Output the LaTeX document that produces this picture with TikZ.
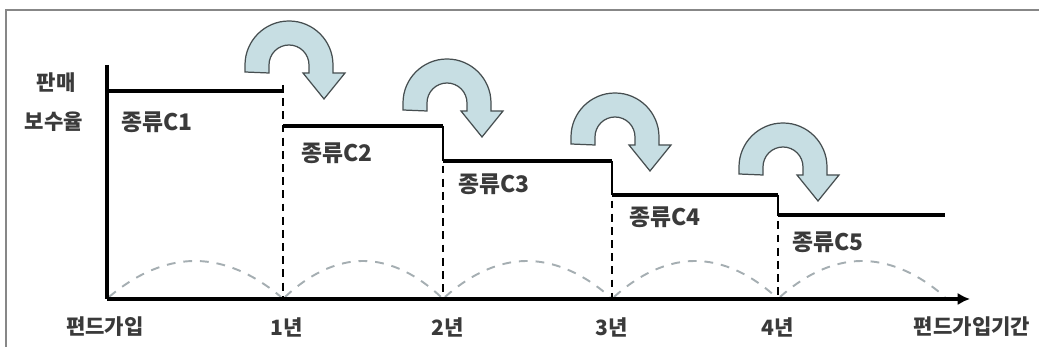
\documentclass[tikz,border=0pt]{standalone}
\usepackage{fontspec}
\newfontfamily\kr{Noto Sans CJK KR}
\usetikzlibrary{calc}
\usetikzlibrary{arrows.meta}
\usepackage{xcolor}
\definecolor{turnblue}{RGB}{199,222,227}
\definecolor{turnedge}{RGB}{70,78,80}
\definecolor{labelgray}{RGB}{58,58,58}
\definecolor{humpgray}{RGB}{165,174,178}
\definecolor{framegray}{RGB}{135,135,135}

% u-turn block arrow around a centre point
\newcommand{\uturn}[1]{%
\draw[turnarrow] #1 ++(-44,-7) -- ++(0,7) arc[start angle=180, end angle=0, radius=44]
  -- ++(0,-8) -- ++(12,0) -- ++(-21,-26) -- ++(-21,26) -- ++(6,0) -- ++(0,8)
  arc[start angle=0, end angle=180, radius=20] -- ++(0,-8) -- cycle;}

\begin{document}
\begin{tikzpicture}[x=0.02cm, y=0.02cm,
  stepline/.style={black, line width=2.5pt},
  yearline/.style={black, line width=1.2pt, dash pattern=on 4.5pt off 3pt},
  bounce/.style={humpgray, line width=1.1pt, dash pattern=on 5pt off 4.5pt},
  turnarrow/.style={draw=turnedge, fill=turnblue, line width=0.7pt},
  fundlabel/.style={text=labelgray, font=\kr\bfseries\fontsize{13}{13}\selectfont},
  yearlabel/.style={text=labelgray, font=\kr\bfseries\fontsize{12}{12}\selectfont}]
\useasboundingbox (0,0) rectangle (1039,347);
\draw[framegray, line width=1.2pt] (6,0) -- (6,337) -- (1039,337);

\coordinate (O) at (107,48);
\coordinate (Ytop) at (107,282);
\coordinate (Xend) at (970,48);
\coordinate (S1) at (283,256);
\coordinate (S2) at (443,221);
\coordinate (S3) at (612,186);
\coordinate (S4) at (778,152);
\coordinate (S5) at (945,132);
\coordinate (Y1) at (283,48);
\coordinate (Y2) at (443,48);
\coordinate (Y3) at (612,48);
\coordinate (Y4) at (778,48);

% dashed bounces between the years
\draw[bounce] (109,50) parabola bend (195,86) (281,50);
\draw[bounce] (285,50) parabola bend (363,86) (441,50);
\draw[bounce] (445,50) parabola bend (527,86) (610,50);
\draw[bounce] (614,50) parabola bend (695,86) (776,50);
\draw[bounce] (780,50) parabola bend (862,86) (945,50);

\draw[yearline] (283,262) -- (Y1);
\draw[yearline] (S2) -- (Y2);
\draw[yearline] (S3) -- (Y3);
\draw[yearline] (S4) -- (Y4);
\draw[black, line width=1.2pt] (S2) -- (S2 |- S3);
\draw[black, line width=1.2pt] (S3) -- (S3 |- S4);
\draw[black, line width=1.2pt] (S4) -- (S4 |- S5);

\draw[stepline] (O |- S1) -- (S1);
\draw[stepline] (S1 |- S2) -- (S2);
\draw[stepline] (S2 |- S3) -- (S3);
\draw[stepline] (S3 |- S4) -- (S4);
\draw[stepline] (S4 |- S5) -- (S5);

\draw[black, line width=2.3pt] (Ytop) -- (O);
\draw[black, line width=2.3pt, -{Latex[length=7pt,width=7pt]}] (O) -- (Xend);

\uturn{(289,282)}
\uturn{(447,244)}
\uturn{(615,210)}
\uturn{(783,180)}

\node[yearlabel] (ylab1) at (56,264) {판매};
\node[yearlabel] (ylab2) at (54,225) {보수율};
\node[fundlabel] (c1) at (157,225) {종류C1};
\node[fundlabel] (c2) at (337,194) {종류C2};
\node[fundlabel] (c3) at (494,163) {종류C3};
\node[fundlabel] (c4) at (665,130) {종류C4};
\node[fundlabel] (c5) at (828,105) {종류C5};
\node[yearlabel] (t0) at (105,20) {편드가입};
\node[yearlabel] (t1) at (287,20) {1년};
\node[yearlabel] (t2) at (448,20) {2년};
\node[yearlabel] (t3) at (612,20) {3년};
\node[yearlabel] (t4) at (778,20) {4년};
\node[yearlabel] (xlab) at (972,20) {편드가입기간};
\end{tikzpicture}
\end{document}
